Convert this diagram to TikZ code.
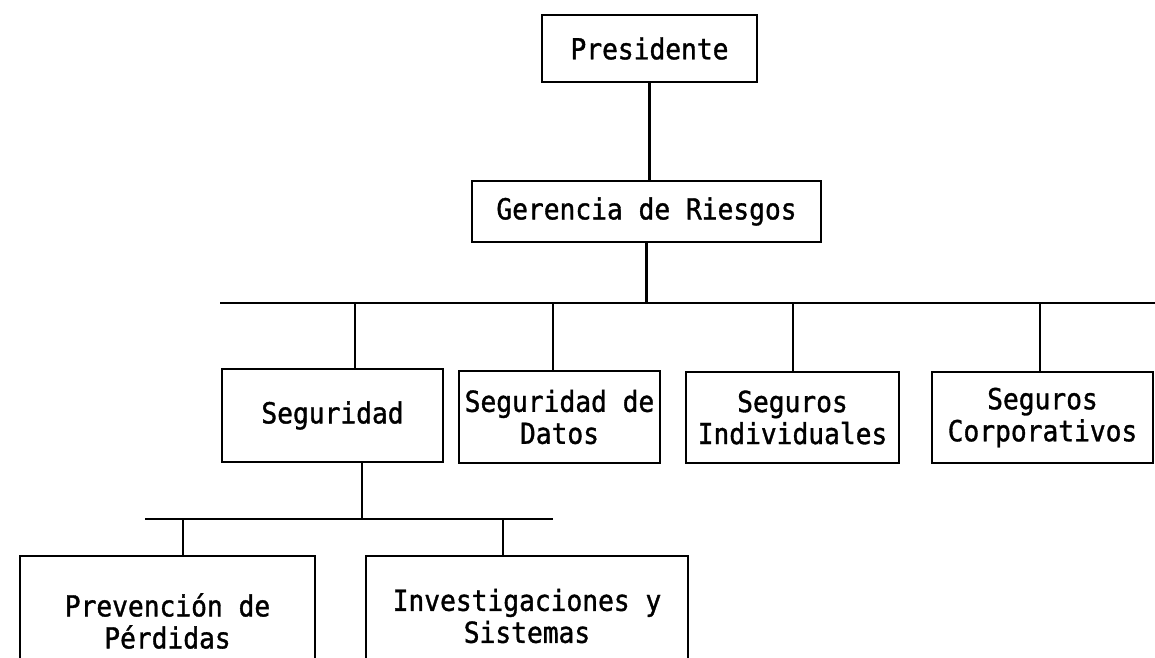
\documentclass[tikz,border=0pt]{standalone}
\usepackage{fontspec}
\newfontfamily\orgfont[FakeStretch=0.905, FakeBold=1.2]{DejaVu Sans Mono}
\begin{document}
\begin{tikzpicture}[
        x=1pt, y=-1pt,
        caja/.style={rectangle, draw, line width=2.8pt, inner sep=0pt, align=center,
            font=\orgfont\fontsize{29}{32}\selectfont},
        enlace/.style={line width=2.3pt}
    ]
        \useasboundingbox (0,0) rectangle (1155,657);
        \clip (0,0) rectangle (1155,657);

        % Cajas
        \node[caja, minimum width=215pt, minimum height=67pt] (pres) at (649.5,48.5) {Presidente};
        \node[caja, minimum width=349pt, minimum height=61pt] (ger) at (646.5,211.5) {Gerencia de Riesgos};
        \node[caja, minimum width=221pt, minimum height=93pt] (seg) at (332.5,415.5) {Seguridad};
        \node[caja, minimum width=201pt, minimum height=92pt] (datos) at (559.5,417) {Seguridad de\\Datos};
        \node[caja, minimum width=213pt, minimum height=91pt] (indiv) at (792.5,417.5) {Seguros\\Individuales};
        \node[caja, minimum width=221pt, minimum height=91pt] (corp) at (1042.5,417.5) {Seguros\\Corporativos};
        \node[caja, minimum width=295pt, minimum height=130pt] (prev) at (167.5,621) {Prevención de\\Pérdidas};
        \node[caja, minimum width=322pt, minimum height=120pt] (inv) at (527,616) {Investigaciones y\\Sistemas};

        % Barras
        \coordinate (busL) at (220,303);
        \coordinate (busR) at (1160,303);
        \coordinate (bSeg) at (355,303);
        \coordinate (bDatos) at (553,303);
        \coordinate (bIndiv) at (793,303);
        \coordinate (bCorp) at (1040,303);
        \coordinate (subL) at (145,519);
        \coordinate (subR) at (553,519);
        \coordinate (sSeg) at (362,519);
        \coordinate (sPrev) at (183,519);
        \coordinate (sInv) at (503,519);

        % Líneas
        \draw[enlace] (pres.south) -- (pres.south |- ger.north);
        \draw[enlace] (ger.south) -- (ger.south |- busL);
        \draw[enlace] (busL) -- (busR);
        \foreach \b/\n in {bSeg/seg, bDatos/datos, bIndiv/indiv, bCorp/corp}
            \draw[enlace] (\b) -- (\b |- \n.north);
        \draw[enlace] (sSeg |- seg.south) -- (sSeg);
        \draw[enlace] (subL) -- (subR);
        \foreach \b/\n in {sPrev/prev, sInv/inv}
            \draw[enlace] (\b) -- (\b |- \n.north);

    \end{tikzpicture}
\end{document}
